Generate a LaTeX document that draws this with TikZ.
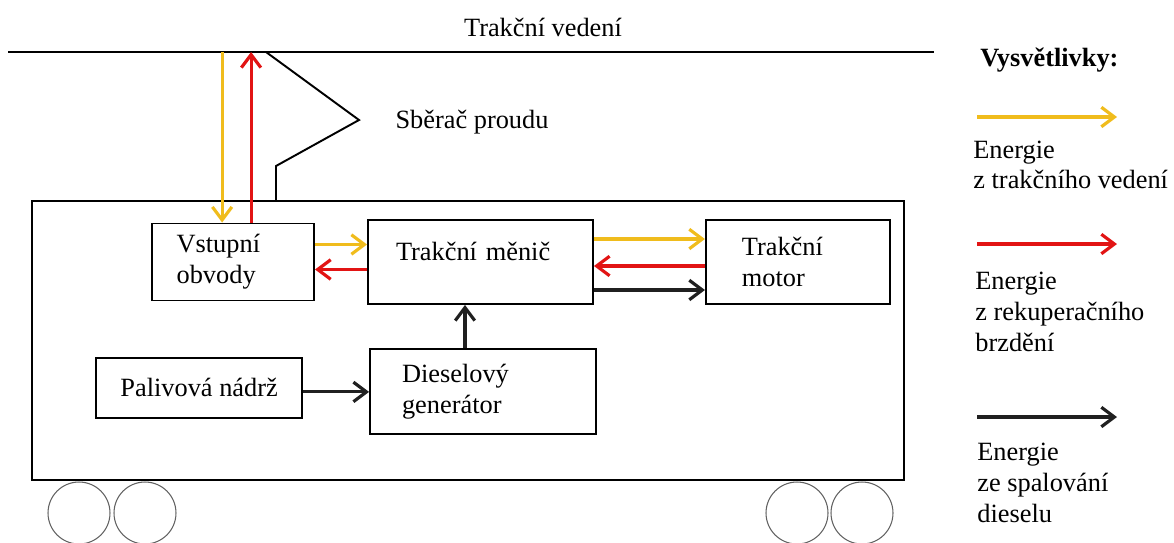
\documentclass[tikz,border=0pt]{standalone}
\usepackage{fontspec}
\setmainfont{LiberationSerif}[Extension=.ttf, UprightFont=*-Regular, BoldFont=*-Bold]
\usepackage{xcolor}
\usetikzlibrary{arrows.meta,positioning}

\definecolor{feedyellow}{RGB}{240,188,28}
\definecolor{brakered}{RGB}{226,20,20}
\definecolor{fuelblack}{RGB}{32,32,32}

\begin{document}
\begin{tikzpicture}[
  x=0.02cm, y=-0.02cm,
  font=\fontsize{15}{17.5}\selectfont,
  box/.style={draw, line width=1.1pt, align=left, inner ysep=0pt},
  wheel/.style={draw=black!62, line width=0.6pt},
  line/.style={-{Straight Barb[length=2.6mm, width=3.9mm]}, line width=1.8pt},
  yline/.style={line, feedyellow},
  rline/.style={line, brakered},
  kline/.style={line, fuelblack},
  legtext/.style={anchor=west, align=left, inner sep=0pt}
]
\useasboundingbox (0,0) rectangle (1174,542);

% overhead line and pantograph
\coordinate (wireL) at (8,52);
\coordinate (wireR) at (934,52);
\draw[line width=1.1pt] (wireL) -- (wireR);
\node (wire) at (543,27) {Trakční vedení};
\draw[line width=1.1pt] (266,52) -- (359,120) -- (276,166) -- (276,201);
\node (panto) at (472,122) {Sběrač proudu};

% vehicle body and wheels
\draw[line width=1.1pt] (32,201) rectangle (904,480);
\foreach \wx in {79,145,797,862}
  \draw[wheel] (\wx,513) circle[radius=0.62cm];

% blocks
\node[box, minimum width=4.5cm, minimum height=1.68cm, text width=3.38cm, inner xsep=0.56cm,
      text height=0.37cm, text depth=0.45cm] (menic) at (480.5,262) {Trakční měnič};
\node[box, minimum width=3.24cm, minimum height=1.54cm, text width=2.26cm, inner xsep=0.49cm,
      left=1.04cm of menic] (vstup) {Vstupní\\obvody};
\node[box, minimum width=3.68cm, minimum height=1.68cm, text width=2.24cm, inner xsep=0.72cm,
      right=2.22cm of menic] (motor) {Trakční\\motor};
\node[box, minimum width=4.52cm, minimum height=1.7cm, text width=3.24cm, inner xsep=0.64cm,
      below=0.86cm of menic, xshift=0.05cm] (diesel) {Dieselový\\generátor};
\node[box, minimum width=4.12cm, minimum height=1.2cm, align=center,
      left=1.32cm of diesel, yshift=0.07cm] (nadrz) {Palivová nádrž};

% energy flows
\draw[yline] ([xshift=-0.22cm]vstup.north |- wireL) -- ([xshift=-0.22cm]vstup.north);
\draw[rline] ([xshift=0.36cm]vstup.north) -- ([xshift=0.36cm]vstup.north |- wireL);
\draw[yline] ([yshift=0.35cm]vstup.east) -- ([yshift=0.35cm]vstup.east -| menic.west);
\draw[rline] ([yshift=-0.15cm]vstup.east -| menic.west) -- ([yshift=-0.15cm]vstup.east);
\draw[yline] ([yshift=0.46cm]menic.east) -- ([yshift=0.46cm]motor.west);
\draw[rline] ([yshift=-0.08cm]motor.west) -- ([yshift=-0.08cm]menic.east);
\draw[kline] ([yshift=-0.56cm]menic.east) -- ([yshift=-0.56cm]motor.west);
\draw[kline] ([xshift=-0.36cm]diesel.north) -- ([xshift=-0.36cm]diesel.north |- menic.south);
\draw[kline] ([yshift=-0.08cm]nadrz.east) -- ([yshift=-0.08cm]nadrz.east -| diesel.west);

% legend
\node[legtext, font=\fontsize{15}{17.5}\selectfont\bfseries] (legend) at (980,60) {Vysvětlivky:};
\coordinate (kyA) at (977,117);  \coordinate (kyB) at (1117,117);
\coordinate (krA) at (977,244);  \coordinate (krB) at (1117,244);
\coordinate (kkA) at (977,417);  \coordinate (kkB) at (1117,417);
\draw[yline] (kyA) -- (kyB);
\draw[rline] (krA) -- (krB);
\draw[kline] (kkA) -- (kkB);
\node[legtext] (legY) at (973,165) {Energie\\z trakčního vedení};
\node[legtext] (legR) at (975,312) {Energie\\z rekuperačního\\brzdění};
\node[legtext] (legK) at (977,483) {Energie\\ze spalování\\dieselu};
\end{tikzpicture}
\end{document}
